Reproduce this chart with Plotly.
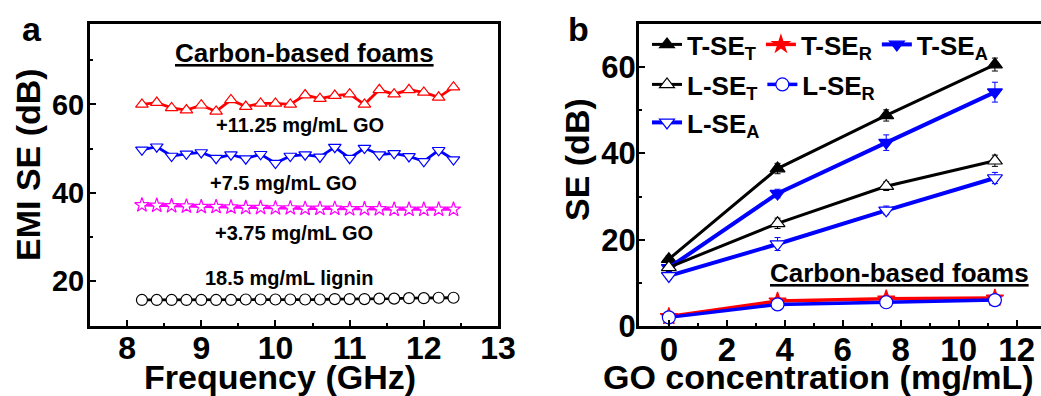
import plotly.graph_objects as go

# ---------------- data: panel a ----------------
freq = [8.2, 8.4, 8.6, 8.8, 9.0, 9.2, 9.4, 9.6, 9.8, 10.0, 10.2,
        10.4, 10.6, 10.8, 11.0, 11.2, 11.4, 11.6, 11.8, 12.0, 12.2, 12.4]
se_go_11 = [60.0, 60.4, 59.2, 58.7, 59.8, 58.4, 61.0, 59.5, 60.2, 60.2, 60.0,
            62.1, 61.3, 62.0, 62.3, 60.0, 63.3, 62.3, 63.3, 62.7, 61.6, 63.9]
se_go_7 = [49.7, 50.4, 48.3, 48.8, 49.1, 47.8, 48.6, 47.7, 48.7, 46.7, 48.3,
           48.6, 48.1, 50.3, 47.8, 50.1, 48.6, 48.9, 48.2, 47.1, 49.6, 47.5]
se_go_3 = [37.2, 37.1, 37.0, 36.9, 36.8, 36.8, 36.7, 36.6, 36.6, 36.5, 36.5,
           36.4, 36.4, 36.4, 36.3, 36.3, 36.3, 36.2, 36.2, 36.2, 36.2, 36.2]
se_lignin = [15.7, 15.7, 15.7, 15.7, 15.7, 15.7, 15.7, 15.8, 15.8, 15.8, 15.8,
             15.8, 15.8, 15.9, 15.9, 15.9, 16.0, 16.0, 16.1, 16.1, 16.2, 16.2]
labels_a = ["+11.25 mg/mL GO", "+7.5 mg/mL GO", "+3.75 mg/mL GO", "18.5 mg/mL lignin"]

# ---------------- data: panel b ----------------
go_conc = [0, 3.75, 7.5, 11.25]
t_se_t = [15.5, 36.5, 48.8, 60.6]
t_se_r = [2.2, 5.8, 6.3, 6.5]
t_se_a = [13.5, 30.7, 42.5, 54.2]
l_se_t = [13.6, 23.8, 32.4, 38.3]
l_se_r = [2.0, 5.0, 5.5, 6.0]
l_se_a = [11.6, 19.0, 26.8, 34.3]
err_t_se_t = [0.8, 1.2, 1.3, 1.5]
err_t_se_r = [0.5, 0.8, 0.8, 0.7]
err_t_se_a = [0.8, 1.0, 1.8, 2.3]
err_l_se_t = [0.7, 1.2, 1.0, 1.3]
err_l_se_r = [0.5, 0.6, 0.6, 0.6]
err_l_se_a = [0.8, 1.5, 1.0, 1.3]

W, H = 1041, 396
FONT = "Arial, Liberation Sans, sans-serif"

def PX(x):
    return x / W

def PY(y):
    return 1 - y / H

fig = go.Figure()

# ---- panel a traces ----
series_a = [
    (se_go_11, "#ff0000", "triangle-up"),
    (se_go_7, "#0000ff", "triangle-down"),
    (se_go_3, "#ff00ff", "star"),
    (se_lignin, "#000000", "circle"),
]
for ys, col, sym in series_a:
    fig.add_trace(go.Scatter(
        x=freq, y=ys, mode="lines+markers", xaxis="x", yaxis="y",
        line=dict(color=col, width=2.8),
        marker=dict(symbol=sym, size=11, color="white", line=dict(color=col, width=1.2)),
        showlegend=False))

# ---- panel b traces ----
series_b = [
    (t_se_t, err_t_se_t, "T-SE<sub>T</sub>", "#000000", "triangle-up", "#000000", 3, "legend"),
    (t_se_r, err_t_se_r, "T-SE<sub>R</sub>", "#ff0000", "star", "#ff0000", 3.5, "legend"),
    (t_se_a, err_t_se_a, "T-SE<sub>A</sub>", "#0000ff", "triangle-down", "#0000ff", 4, "legend"),
    (l_se_t, err_l_se_t, "L-SE<sub>T</sub>", "#000000", "triangle-up", "white", 3, "legend2"),
    (l_se_r, err_l_se_r, "L-SE<sub>R</sub>", "#0000ff", "circle", "white", 3.5, "legend2"),
    (l_se_a, err_l_se_a, "L-SE<sub>A</sub>", "#0000ff", "triangle-down", "white", 4, "legend3"),
]
for ys, es, name, col, sym, fill, lw, leg in series_b:
    fig.add_trace(go.Scatter(
        x=go_conc, y=ys, name=name, mode="lines+markers", xaxis="x2", yaxis="y2",
        line=dict(color=col, width=lw),
        marker=dict(symbol=sym, size=13, color=fill, line=dict(color=col, width=1.2)),
        error_y=dict(type="data", array=es, color=col, thickness=1, width=3),
        legend=leg))

tickfont_common = dict(family=FONT, color="black", weight="bold")
axis_common = dict(showline=True, linewidth=3, linecolor="black", mirror=True,
                   ticks="inside", tickwidth=2, tickcolor="black", ticklen=6,
                   showgrid=False, zeroline=False, automargin=False)

ydom = [PY(326), PY(24)]
fig.update_layout(
    width=W, height=H, autosize=False,
    margin=dict(l=0, r=0, t=0, b=0, pad=0, autoexpand=False),
    paper_bgcolor="white", plot_bgcolor="white",
    font=dict(family=FONT, color="black"),
    xaxis=dict(domain=[PX(90), PX(498)], range=[7.5, 13], tickmode="linear", tick0=8, dtick=1,
               tickfont=dict(size=32, **tickfont_common), ticklabelstandoff=-8,
               minor=dict(ticks="inside", ticklen=3, tickwidth=2, dtick=0.5, tick0=8, tickcolor="black"),
               anchor="y", **axis_common),
    yaxis=dict(domain=ydom, range=[9.8, 78.2], tickmode="linear", tick0=0, dtick=20,
               tickfont=dict(size=29, **tickfont_common), ticklabelstandoff=-3,
               minor=dict(ticks="inside", ticklen=3, tickwidth=2, dtick=10, tick0=0, tickcolor="black"),
               anchor="x", **axis_common),
    xaxis2=dict(domain=[PX(639), 1.0], range=[-1.03, 12.84], tickmode="linear", tick0=0, dtick=2,
                tickfont=dict(size=33, **tickfont_common), ticklabelstandoff=-8,
                minor=dict(ticks="inside", ticklen=3, tickwidth=2, dtick=1, tick0=0, tickcolor="black"),
                anchor="y2", **axis_common),
    yaxis2=dict(domain=ydom, range=[0, 70], tickmode="linear", tick0=0, dtick=20,
                tickfont=dict(size=31, **tickfont_common), ticklabelstandoff=-6,
                minor=dict(ticks="inside", ticklen=3, tickwidth=2, dtick=10, tick0=0, tickcolor="black"),
                anchor="x2", **axis_common),
)

legend_common = dict(orientation="h", xref="paper", yref="paper", xanchor="left", yanchor="top",
                     bgcolor="rgba(0,0,0,0)", borderwidth=0, itemwidth=30,
                     font=dict(family=FONT, size=26, color="black", weight="bold"),
                     tracegroupgap=0)
fig.update_layout(
    legend=dict(x=PX(647), y=PY(21), **legend_common),
    legend2=dict(x=PX(647), y=PY(61), **legend_common),
    legend3=dict(x=PX(647), y=PY(99), **legend_common),
)

ann = []
def bold_text(text, x, y, size, xref="paper", yref="paper", underline=False, textangle=0):
    f = dict(family=FONT, size=size, color="black", weight="bold")
    if underline:
        f["lineposition"] = "under"
    ann.append(dict(text=text, x=x, y=y, xref=xref, yref=yref, showarrow=False,
                    xanchor="center", yanchor="middle", font=f, textangle=textangle))

# panel letters
bold_text("a", PX(32), PY(29), 34)
bold_text("b", PX(578), PY(29), 34)
# axis titles
bold_text("Frequency (GHz)", PX(280), PY(377), 34)
bold_text("EMI SE (dB)", PX(28), PY(165), 34, textangle=-90)
bold_text("GO concentration (mg/mL)", PX(818), PY(377), 34)
bold_text("SE (dB)", PX(577), PY(160), 34, textangle=-90)
# panel a labels
bold_text("Carbon-based foams", 10.39, 71.6, 26, "x", "y", underline=True)
label_pos = [(10.33, 55.3), (10.11, 42.2), (10.25, 30.9), (10.19, 20.7)]
for t, (lx, ly) in zip(labels_a, label_pos):
    bold_text(t, lx, ly, 20, "x", "y")
# panel b label
bold_text("Carbon-based foams", 7.96, 12.4, 26, "x2", "y2", underline=True)

fig.update_layout(annotations=ann)
fig.write_html("out.html")
